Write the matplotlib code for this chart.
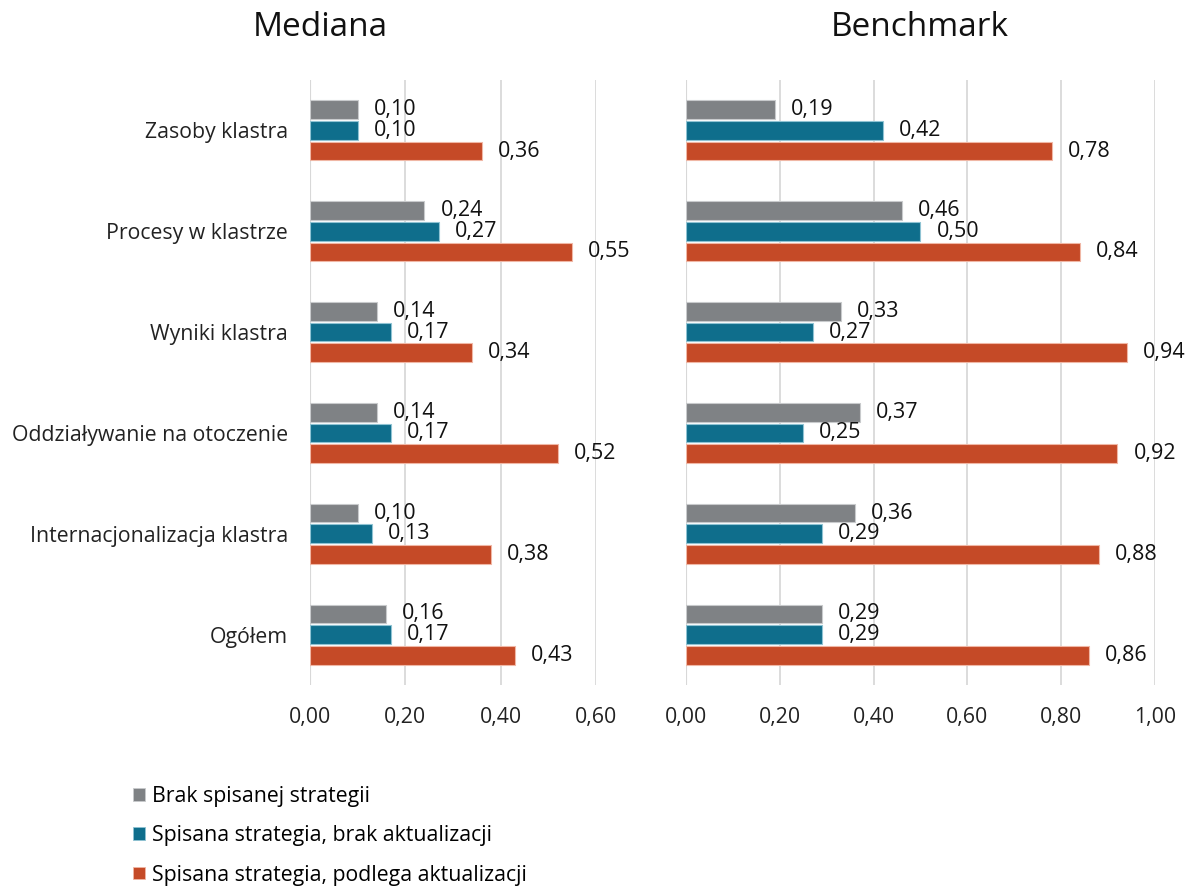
import matplotlib
matplotlib.use("Agg")
import matplotlib.pyplot as plt
import numpy as np
from matplotlib.patches import Patch

plt.rcParams['font.family'] = ['Open Sans', 'DejaVu Sans']

categories = ["Zasoby klastra", "Procesy w klastrze", "Wyniki klastra",
              "Oddziaływanie na otoczenie", "Internacjonalizacja klastra", "Ogółem"]
series_names = ["Brak spisanej strategii", "Spisana strategia, brak aktualizacji",
                "Spisana strategia, podlega aktualizacji"]
mediana_brak = [0.10, 0.24, 0.14, 0.14, 0.10, 0.16]
mediana_brak_akt = [0.10, 0.27, 0.17, 0.17, 0.13, 0.17]
mediana_podlega = [0.36, 0.55, 0.34, 0.52, 0.38, 0.43]
bench_brak = [0.19, 0.46, 0.33, 0.37, 0.36, 0.29]
bench_brak_akt = [0.42, 0.50, 0.27, 0.25, 0.29, 0.29]
bench_podlega = [0.78, 0.84, 0.94, 0.92, 0.88, 0.86]
mediana_ticks = [0.0, 0.2, 0.4, 0.6]
bench_ticks = [0.0, 0.2, 0.4, 0.6, 0.8, 1.0]

colors = ["#7f8285", "#0f6e8c", "#c54a27"]
edge_colors = ["#c8cacc", "#8fc3d3", "#f0b7a5"]

fig = plt.figure(figsize=(11.86, 8.88), dpi=100)
W, H = 1186, 888
def ax_rect(x0, x1, y0, y1):
    return [x0 / W, 1 - y1 / H, (x1 - x0) / W, (y1 - y0) / H]

ax1 = fig.add_axes(ax_rect(310, 596, 80, 685))
ax2 = fig.add_axes(ax_rect(686, 1155, 80, 685))

y = np.arange(len(categories))
offsets = [-0.205, 0.0, 0.205]
bh = 0.185

def draw(ax, data, ticks, xmax, show_labels):
    for k, vals in enumerate(data):
        ax.barh(y + offsets[k], vals, height=bh, color=colors[k],
                edgecolor=edge_colors[k], linewidth=0.8, zorder=3)
        for yi, v in zip(y, vals):
            ax.annotate(f"{v:.2f}".replace(".", ","), xy=(v, yi + offsets[k]),
                        xytext=(16, 0), textcoords="offset pixels",
                        va="center", ha="left", fontsize=15.5, color="#111111")
    ax.set_xlim(0, xmax)
    ax.set_ylim(len(categories) - 0.5, -0.5)
    ax.set_xticks(ticks)
    ax.set_xticklabels([f"{t:.2f}".replace(".", ",") for t in ticks], fontsize=15.3, color="#222222")
    ax.grid(axis="x", color="#d9d9d9", linewidth=1.3, zorder=0)
    ax.axvline(0, color="#d0d0d0", linewidth=1.5, zorder=1)
    for s in ax.spines.values():
        s.set_visible(False)
    ax.tick_params(axis="x", length=0, pad=16)
    ax.tick_params(axis="y", length=0, pad=16)
    ax.set_yticks(y)
    if show_labels:
        ax.set_yticklabels(categories, fontsize=15.3, color="#222222")
    else:
        ax.set_yticklabels([])

draw(ax1, [mediana_brak, mediana_brak_akt, mediana_podlega], mediana_ticks, 0.6, True)
draw(ax2, [bench_brak, bench_brak_akt, bench_podlega], bench_ticks, 1.0, False)

fig.text(320 / W, 1 - 27 / H, "Mediana", ha="center", va="center", fontsize=24, color="#111111")
fig.text(920 / W, 1 - 27 / H, "Benchmark", ha="center", va="center", fontsize=24, color="#111111")

handles = [Patch(facecolor=c, edgecolor=e, linewidth=0.6) for c, e in zip(colors, edge_colors)]
fig.legend(handles, series_names, loc="upper left", bbox_to_anchor=(133 / W, 1 - 786 / H),
           frameon=False, fontsize=15.3, handlelength=0.55, handleheight=0.55,
           handletextpad=0.35, labelspacing=0.86, borderpad=0, borderaxespad=0)

fig.savefig("out.png", dpi=100)
